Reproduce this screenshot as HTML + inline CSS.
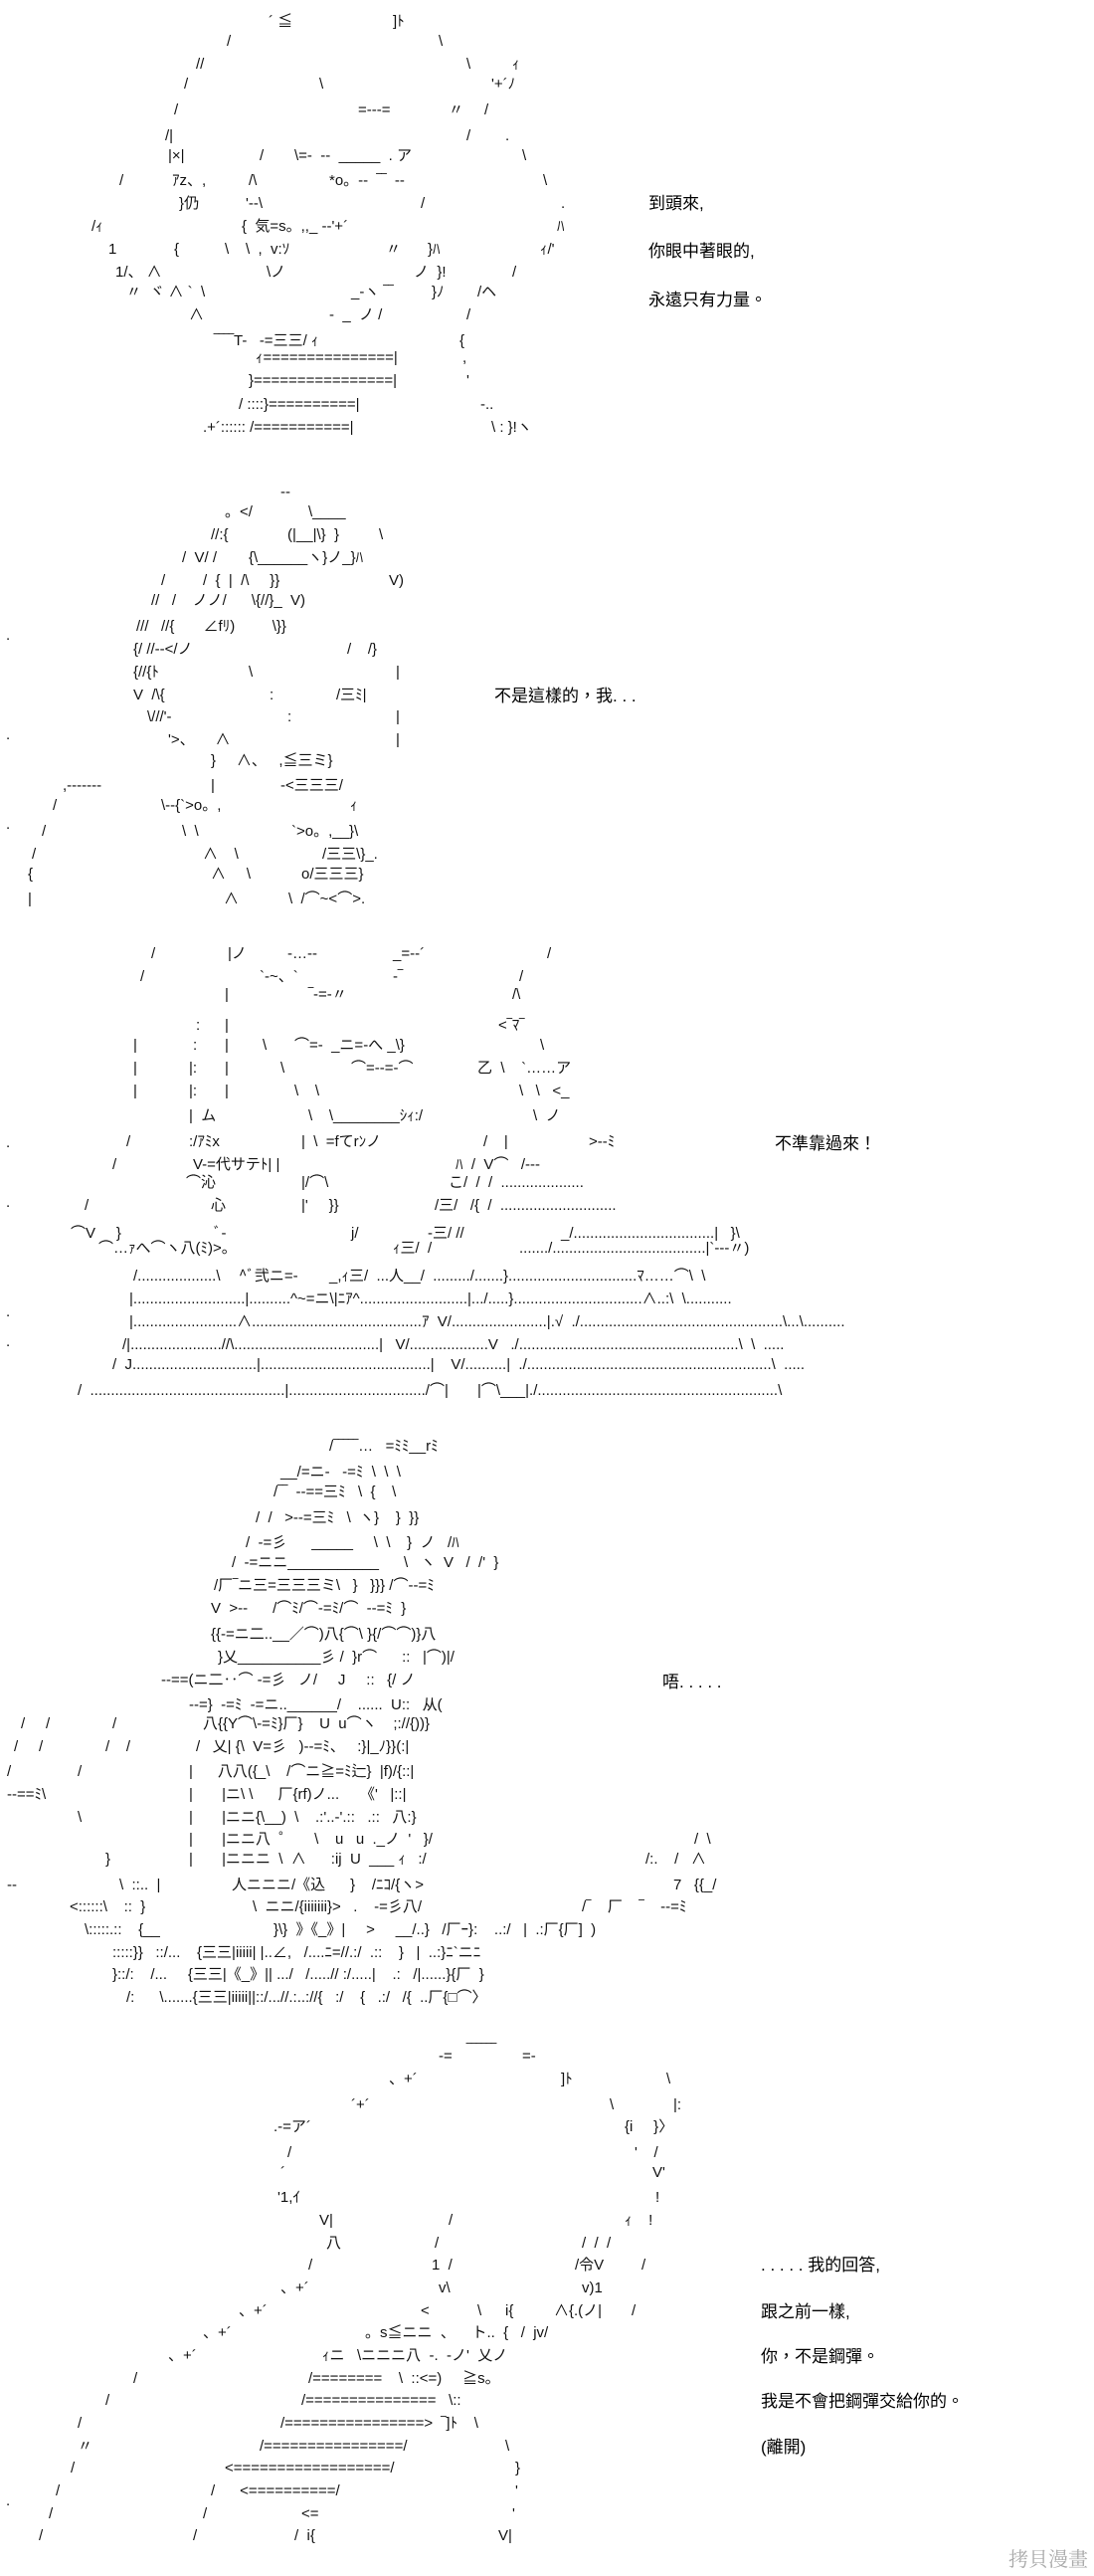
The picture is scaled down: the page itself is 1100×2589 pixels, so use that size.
<!DOCTYPE html>
<html><head><meta charset="utf-8">
<style>
html,body{margin:0;padding:0;background:#fff}
#c{position:relative;width:1100px;height:2589px;overflow:hidden;background:#fff;color:#111}
b{position:absolute;white-space:pre;font-weight:normal;font-family:"Liberation Sans","Noto Sans CJK JP",sans-serif;font-size:15px;line-height:18px}
.t{font-family:"Liberation Sans","Noto Sans CJK TC",sans-serif;font-size:17px;line-height:20px;color:#000}
.w{font-family:"Noto Serif CJK SC",serif;font-size:20px;color:#aaa}
</style></head><body><div id="c">
<!-- panel 1 -->
<b style="left:270px;top:13px">´ ≦</b><b style="left:395px;top:13px">]ﾄ</b>
<b style="left:228px;top:33px">/</b><b style="left:441px;top:33px">\</b>
<b style="left:197px;top:56px">//</b><b style="left:469px;top:56px">\</b><b style="left:515px;top:56px">ｨ</b>
<b style="left:185px;top:76px">/</b><b style="left:321px;top:76px">\</b><b style="left:494px;top:76px">'+´ﾉ</b>
<b style="left:175px;top:102px">/</b><b style="left:360px;top:102px">=‐‐‐=</b><b style="left:451px;top:102px">〃</b><b style="left:487px;top:102px">/</b>
<b style="left:166px;top:128px">/|</b><b style="left:469px;top:128px">/</b><b style="left:508px;top:128px">.</b>
<b style="left:169px;top:148px">|×|</b><b style="left:261px;top:148px">/</b><b style="left:296px;top:148px">\=-  --  _____  . ア</b><b style="left:525px;top:148px">\</b>
<b style="left:120px;top:173px">/</b><b style="left:173px;top:173px">ｱz、,</b><b style="left:250px;top:173px">/\</b><b style="left:331px;top:173px">*o。--  ‾‾  --</b><b style="left:546px;top:173px">\</b>
<b style="left:180px;top:196px">}仍</b><b style="left:247px;top:196px">'‐-\</b><b style="left:423px;top:196px">/</b><b style="left:564px;top:196px">.</b>
<b style="left:92px;top:219px">/ｨ</b><b style="left:243px;top:219px">{  気=s。,,_ ‐‐'+´</b><b style="left:560px;top:219px">ﾊ</b>
<b style="left:109px;top:242px">1</b><b style="left:175px;top:242px">{</b><b style="left:226px;top:242px">\</b><b style="left:247px;top:242px">\  ,  v:ｿ</b><b style="left:388px;top:242px">〃</b><b style="left:430px;top:242px">}ﾊ</b><b style="left:543px;top:242px">ｨ/'</b>
<b style="left:116px;top:265px">1/、 ∧</b><b style="left:268px;top:265px">\ノ</b><b style="left:416px;top:265px">ノ  }!</b><b style="left:515px;top:265px">/</b>
<b style="left:127px;top:285px">〃  ヾ ∧ `  \</b><b style="left:353px;top:285px">_-ヽ ‾‾</b><b style="left:434px;top:285px">}ﾉ</b><b style="left:480px;top:285px">/ヘ</b>
<b style="left:190px;top:308px">∧</b><b style="left:331px;top:308px">-  _  ノ /</b><b style="left:469px;top:308px">/</b>
<b style="left:215px;top:334px">‾‾‾‾T-   -=三三/ ｨ</b><b style="left:462px;top:334px">{</b>
<b style="left:257px;top:351px">ｨ===============|</b><b style="left:465px;top:351px">,</b>
<b style="left:250px;top:374px">}================|</b><b style="left:469px;top:374px">'</b>
<b style="left:240px;top:398px">/ ::::}==========|</b><b style="left:483px;top:398px">-..</b>
<b style="left:204px;top:421px">.+´:::::: /===========|</b><b style="left:494px;top:421px">\ : }!ヽ</b>
<div class="t" style="position:absolute;left:652px;top:195px">到頭來,</div>
<div class="t" style="position:absolute;left:652px;top:243px">你眼中著眼的,</div>
<div class="t" style="position:absolute;left:652px;top:292px">永遠只有力量。</div>
<!-- panel 2 -->
<b style="left:282px;top:486px">--</b>
<b style="left:226px;top:506px">。&lt;/</b><b style="left:310px;top:506px">\____</b>
<b style="left:212px;top:529px">//:{</b><b style="left:289px;top:529px">(|__|\}  }</b><b style="left:381px;top:529px">\</b>
<b style="left:183px;top:552px">/  V/ /</b><b style="left:250px;top:552px">{\______ヽ}ノ_}ﾊ</b>
<b style="left:162px;top:575px">/</b><b style="left:204px;top:575px">/  {  |  /\     }}</b><b style="left:391px;top:575px">V)</b>
<b style="left:152px;top:595px">//   /    ノノ/      \{//}_  V)</b>
<b style="left:137px;top:621px">///   //{       ∠fﾘ)         \}}</b>
<b style="left:134px;top:644px">{/ //--&lt;/ノ</b><b style="left:349px;top:644px">/    /}</b>
<b style="left:134px;top:667px">{//{ﾄ</b><b style="left:250px;top:667px">\</b><b style="left:398px;top:667px">|</b>
<b style="left:134px;top:690px">V  /\{</b><b style="left:271px;top:690px">:</b><b style="left:338px;top:690px">/三ﾐ|</b>
<b style="left:148px;top:712px">\///'‐</b><b style="left:289px;top:712px">:</b><b style="left:398px;top:712px">|</b>
<b style="left:169px;top:735px">'&gt;、     ∧</b><b style="left:398px;top:735px">|</b>
<b style="left:212px;top:756px">}     ∧、   ,≦三ミ}</b>
<b style="left:63px;top:781px">,‐‐‐‐‐‐‐</b><b style="left:212px;top:781px">|</b><b style="left:282px;top:781px">‐&lt;三三三/</b>
<b style="left:53px;top:801px">/</b><b style="left:162px;top:801px">\--{`&gt;o。,</b><b style="left:352px;top:801px">ｨ</b>
<b style="left:42px;top:827px">/</b><b style="left:183px;top:827px">\  \</b><b style="left:293px;top:827px">`&gt;o。,__}\</b>
<b style="left:32px;top:850px">/</b><b style="left:204px;top:850px">∧    \</b><b style="left:324px;top:850px">/三三\}_.</b>
<b style="left:28px;top:870px">{</b><b style="left:212px;top:870px">∧     \</b><b style="left:303px;top:870px">o/三三三}</b>
<b style="left:28px;top:895px">|</b><b style="left:225px;top:895px">∧</b><b style="left:290px;top:895px">\  /⌒~&lt;⌒&gt;.</b>
<b style="left:6px;top:630px">.</b><b style="left:6px;top:730px">.</b><b style="left:6px;top:820px">.</b>
<div class="t" style="position:absolute;left:497px;top:690px">不是這樣的，我. . .</div>
<!-- panel 3 -->
<b style="left:152px;top:950px">/</b><b style="left:229px;top:950px">|ノ</b><b style="left:289px;top:950px">‐…‐‐</b><b style="left:395px;top:950px">_=-‐´</b><b style="left:550px;top:950px">/</b>
<b style="left:141px;top:973px">/</b><b style="left:261px;top:973px">`‐~、`</b><b style="left:395px;top:973px">‐‾</b><b style="left:522px;top:973px">/</b>
<b style="left:226px;top:991px">|</b><b style="left:310px;top:991px">‾‐=‐〃</b><b style="left:515px;top:991px">/\</b>
<b style="left:197px;top:1022px">:</b><b style="left:226px;top:1022px">|</b><b style="left:501px;top:1022px">&lt;‾ﾏ‾</b>
<b style="left:134px;top:1042px">|</b><b style="left:194px;top:1042px">:</b><b style="left:226px;top:1042px">|</b><b style="left:264px;top:1042px">\</b><b style="left:296px;top:1042px">⌒=-  _ニ=-へ _\}</b><b style="left:543px;top:1042px">\</b>
<b style="left:134px;top:1065px">|</b><b style="left:190px;top:1065px">|:</b><b style="left:226px;top:1065px">|</b><b style="left:282px;top:1065px">\</b><b style="left:353px;top:1065px">⌒=-‐=‐⌒</b><b style="left:480px;top:1065px">乙  \    `……ア</b>
<b style="left:134px;top:1088px">|</b><b style="left:190px;top:1088px">|:</b><b style="left:226px;top:1088px">|</b><b style="left:296px;top:1088px">\    \</b><b style="left:522px;top:1088px">\   \   &lt;_</b>
<b style="left:190px;top:1113px">|  ム</b><b style="left:310px;top:1113px">\    \________ｼｨ:/</b><b style="left:536px;top:1113px">\  ノ</b>
<b style="left:127px;top:1139px">/</b><b style="left:190px;top:1139px">:/ｱﾐx</b><b style="left:303px;top:1139px">|  \  =fてrﾝノ</b><b style="left:486px;top:1139px">/    |</b><b style="left:592px;top:1139px">&gt;--ﾐ</b>
<b style="left:113px;top:1162px">/</b><b style="left:194px;top:1162px">V-=代サテﾄ| |</b><b style="left:458px;top:1162px">ﾊ  /  V⌒   /‐‐‐</b>
<b style="left:187px;top:1180px">⌒沁</b><b style="left:303px;top:1180px">|/⌒\</b><b style="left:451px;top:1180px">こ/  /  /  ....................</b>
<b style="left:85px;top:1203px">/</b><b style="left:212px;top:1203px">心</b><b style="left:303px;top:1203px">|'     }}</b><b style="left:437px;top:1203px">/三/   /{  /  ............................</b>
<b style="left:71px;top:1231px">⌒V     }</b><b style="left:215px;top:1231px">ﾞ-</b><b style="left:353px;top:1231px">j/</b><b style="left:430px;top:1231px">-三/ //</b><b style="left:564px;top:1231px">_/..................................|   }\</b>
<b style="left:99px;top:1246px">⌒…ｧへ⌒ヽ八(ﾐ)&gt;。</b><b style="left:395px;top:1246px">ｨ三/  /</b><b style="left:522px;top:1246px">......./.....................................|`‐‐‐〃)</b>
<b style="left:134px;top:1274px">/...................\</b><b style="left:240px;top:1274px">^ﾞ弐ニ=-</b><b style="left:331px;top:1274px">_,ｨ三/  ...人__/  ........./.......}...............................ﾏ……⌒\  \</b>
<b style="left:130px;top:1297px">|...........................|..........^~=ニ\|ﾆｱ^..........................|.../.....}...............................∧..:\  \...........</b>
<b style="left:130px;top:1320px">|.........................∧.........................................ｱ  V/.......................|.√  ./.................................................\...\..........</b>
<b style="left:123px;top:1343px">/|......................//\...................................|   V/...................V   ./.....................................................\  \  .....</b>
<b style="left:113px;top:1363px">/  J..............................|.........................................|    V/..........|  ./...........................................................\  .....</b>
<b style="left:78px;top:1389px">/  ...............................................|................................./⌒|       |⌒\___|./..........................................................\</b>
<b style="left:6px;top:1140px">.</b><b style="left:6px;top:1200px">.</b><b style="left:6px;top:1310px">.</b><b style="left:6px;top:1340px">.</b>
<div class="t" style="position:absolute;left:779px;top:1140px">不準靠過來！</div>
<!-- panel 4 -->
<b style="left:331px;top:1445px">/‾‾‾‾‾…   =ﾐﾐ__rﾐ</b>
<b style="left:282px;top:1471px">__/=ニ‐   ‐=ﾐ  \  \  \</b>
<b style="left:275px;top:1491px">/‾‾  ‐‐==三ﾐ   \  {    \</b>
<b style="left:257px;top:1517px">/  /   &gt;‐‐=三ﾐ   \  ヽ}    }  }}</b>
<b style="left:247px;top:1542px">/  ‐=彡      _____     \  \    }  ノ   /ﾊ</b>
<b style="left:233px;top:1562px">/  ‐=ニニ___________      \   ヽ  V   /  /'  }</b>
<b style="left:215px;top:1585px">/厂‾ニ三=三三三ミ\   }   }}} /⌒‐‐=ﾐ</b>
<b style="left:212px;top:1608px">V  &gt;‐‐      /⌒ﾐ/⌒‐=ﾐ/⌒  ‐‐=ﾐ  }</b>
<b style="left:212px;top:1634px">{{‐=ニ二..__／⌒)八{⌒\ }{/⌒⌒)}八</b>
<b style="left:219px;top:1657px">}乂__________彡 /  }r⌒      ::   |⌒)|/</b>
<b style="left:162px;top:1680px">--==(ニ二‥⌒ ‐=彡   ノ/     J     ::   {/ ノ</b>
<b style="left:190px;top:1705px">‐‐=}  ‐=ﾐ  ‐=ニ..______/    ......  U::   从(</b>
<b style="left:21px;top:1724px">/     /</b><b style="left:113px;top:1724px">/</b><b style="left:204px;top:1724px">八{{Y⌒\‐=ﾐ}厂}    U  u⌒ヽ    ;://{))}</b>
<b style="left:14px;top:1747px">/     /</b><b style="left:106px;top:1747px">/    /</b><b style="left:197px;top:1747px">/   乂| {\  V=彡   )‐‐=ﾐ、   :}|_ﾉ}}(:|</b>
<b style="left:7px;top:1772px">/</b><b style="left:78px;top:1772px">/</b><b style="left:190px;top:1772px">|      八八({_\    /⌒ニ≧=ﾐ辷}  |f)/{::|</b>
<b style="left:7px;top:1795px">‐‐==ﾐ\</b><b style="left:190px;top:1795px">|       |ニ\ \      厂{rf)ノ...     《'   |::|</b>
<b style="left:78px;top:1818px">\</b><b style="left:190px;top:1818px">|       |ニニ{\__)  \    .:'..‐'.::   .::   八:}</b>
<b style="left:190px;top:1840px">|       |ニニ八  ゜     \    u   u  ._ノ  '   }/</b><b style="left:698px;top:1840px">/  \</b>
<b style="left:106px;top:1860px">}</b><b style="left:190px;top:1860px">|       |ニニニ  \  ∧      :ij  U  ___ ｨ   :/</b><b style="left:649px;top:1860px">/:.    /   ∧</b>
<b style="left:7px;top:1886px">‐‐</b><b style="left:120px;top:1886px">\  ::..  |</b><b style="left:233px;top:1886px">人ニニニ/《込      }    /ﾆｺ/{ヽ&gt;</b><b style="left:677px;top:1886px">7   {{_/</b>
<b style="left:70px;top:1908px">&lt;::::::\    ::  }</b><b style="left:254px;top:1908px">\  ニニ/{iiiiiii}&gt;   .    ‐=彡八/</b><b style="left:585px;top:1908px">/‾    厂    ‾    ‐‐=ﾐ</b>
<b style="left:85px;top:1931px">\:::::.::    {__</b><b style="left:275px;top:1931px">}\}  》《_》|     &gt;     __/..}   /厂ｰ}:    ..:/   |  .:厂{厂]  )</b>
<b style="left:113px;top:1954px">:::::}}   ::/...    {三三|iiiii| |..∠,   /....ﾆ=//.:/  .::    }   |  ..:}ﾆ`ニﾆ</b>
<b style="left:113px;top:1976px">}::/:    /...     {三三|《_》|| .../   /.....// :/.....|    .:   /|......}{厂  }</b>
<b style="left:127px;top:1999px">/:      \.......{三三|iiiii||::/...//.:..://{   :/    {   .:/   /{  ..厂{□⌒〉</b>
<div class="t" style="position:absolute;left:666px;top:1681px">唔. . . . .</div>
<!-- panel 5 -->
<b style="left:441px;top:2058px">-=</b><b style="left:469px;top:2052px">‾‾‾‾‾‾</b><b style="left:525px;top:2058px">=-</b>
<b style="left:391px;top:2081px">、+´</b><b style="left:564px;top:2081px">]ﾄ</b><b style="left:670px;top:2081px">\</b>
<b style="left:353px;top:2107px">´+´</b><b style="left:613px;top:2107px">\</b><b style="left:677px;top:2107px">|:</b>
<b style="left:275px;top:2129px">.-=ア´</b><b style="left:628px;top:2129px">{i     }〉</b>
<b style="left:289px;top:2155px">/</b><b style="left:638px;top:2155px">'    /</b>
<b style="left:282px;top:2175px">´</b><b style="left:656px;top:2175px">V'</b>
<b style="left:279px;top:2200px">'1,ｲ</b><b style="left:659px;top:2200px">!</b>
<b style="left:321px;top:2223px">V|</b><b style="left:451px;top:2223px">/</b><b style="left:628px;top:2223px">ｨ    !</b>
<b style="left:328px;top:2246px">八</b><b style="left:437px;top:2246px">/</b><b style="left:585px;top:2246px">/  /  /</b>
<b style="left:310px;top:2268px">/</b><b style="left:434px;top:2268px">1  /</b><b style="left:578px;top:2268px">/令V</b><b style="left:645px;top:2268px">/</b>
<b style="left:282px;top:2291px">、+´</b><b style="left:441px;top:2291px">v\</b><b style="left:585px;top:2291px">v)1</b>
<b style="left:240px;top:2314px">、+´</b><b style="left:423px;top:2314px">&lt;</b><b style="left:480px;top:2314px">\</b><b style="left:508px;top:2314px">i{</b><b style="left:557px;top:2314px">∧{.(ノ|</b><b style="left:635px;top:2314px">/</b>
<b style="left:204px;top:2336px">、+´</b><b style="left:367px;top:2336px">。s≦ニニ  、    ト..  {   /  jv/</b>
<b style="left:169px;top:2359px">、+´</b><b style="left:324px;top:2359px">ｨニ   \ニニニ八  ‐.  ‐ノ'  乂ノ</b>
<b style="left:134px;top:2382px">/</b><b style="left:310px;top:2382px">/========    \  ::&lt;=)     ≧s。</b>
<b style="left:106px;top:2404px">/</b><b style="left:303px;top:2404px">/===============   \::</b>
<b style="left:78px;top:2427px">/</b><b style="left:282px;top:2427px">/================&gt;  ‾]ﾄ    \</b>
<b style="left:78px;top:2450px">〃</b><b style="left:261px;top:2450px">/================/</b><b style="left:508px;top:2450px">\</b>
<b style="left:71px;top:2472px">/</b><b style="left:226px;top:2472px">&lt;==================/</b><b style="left:518px;top:2472px">}</b>
<b style="left:56px;top:2495px">/</b><b style="left:212px;top:2495px">/      &lt;==========/</b><b style="left:518px;top:2495px">'</b>
<b style="left:49px;top:2518px">/</b><b style="left:204px;top:2518px">/</b><b style="left:303px;top:2518px">&lt;=</b><b style="left:515px;top:2518px">'</b>
<b style="left:39px;top:2540px">/</b><b style="left:194px;top:2540px">/</b><b style="left:296px;top:2540px">/  i{</b><b style="left:501px;top:2540px">V|</b>
<b style="left:6px;top:2505px">.</b>
<div class="t" style="position:absolute;left:765px;top:2267px">. . . . . 我的回答,</div>
<div class="t" style="position:absolute;left:765px;top:2314px">跟之前一樣,</div>
<div class="t" style="position:absolute;left:765px;top:2359px">你，不是鋼彈。</div>
<div class="t" style="position:absolute;left:765px;top:2404px">我是不會把鋼彈交給你的。</div>
<div class="t" style="position:absolute;left:765px;top:2450px">(離開)</div>
<div class="w" style="position:absolute;left:1014px;top:2556px">拷貝漫畫</div>
</div></body></html>
